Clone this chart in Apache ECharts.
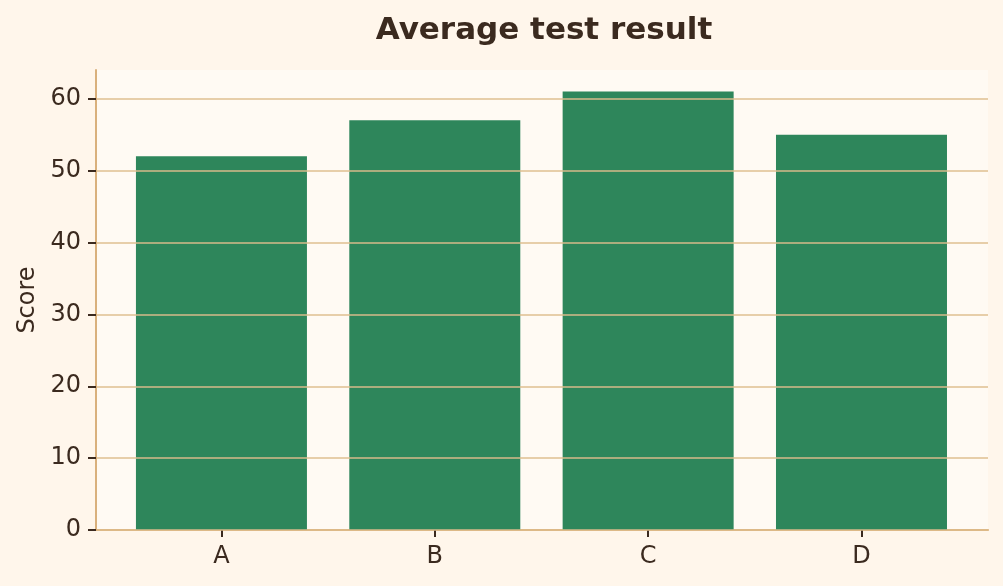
<!DOCTYPE html>
<html><head><meta charset="utf-8">
<script src="https://cdn.jsdelivr.net/npm/echarts@6/dist/echarts.min.js"></script>
<style>html,body{margin:0;padding:0;background:#fff6eb;}#c{width:1003px;height:586px;}</style>
</head><body><div id="c"></div>
<script>
const categories = ['A', 'B', 'C', 'D'];
const scores = [52, 57, 61, 55];
const yTicks = [0, 10, 20, 30, 40, 50, 60];
const title = 'Average test result';
const yName = 'Score';

const ink = '#3b2a1f';
const chart = echarts.init(document.getElementById('c'));
chart.setOption({
  backgroundColor: '#fff6eb',
  animation: false,
  title: {
    text: title, left: 539, top: 10, textAlign: 'center',
    textStyle: { fontFamily: 'DejaVu Sans', fontWeight: 'bold', fontSize: 31, color: ink }
  },
  grid: {
    left: 96, right: 15, top: 70, bottom: 56, show: true,
    backgroundColor: '#fffaf3', borderWidth: 0
  },
  xAxis: {
    type: 'value', min: -0.588, max: 3.593,
    axisLine: { show: true, onZero: false, lineStyle: { color: '#d9b07c', width: 2 } },
    axisTick: { show: true, customValues: [0, 1, 2, 3], length: 7, lineStyle: { color: ink, width: 2 } },
    axisLabel: {
      customValues: [0, 1, 2, 3], formatter: v => categories[Math.round(v)],
      fontFamily: 'DejaVu Sans', fontSize: 24, color: ink, margin: 15
    },
    splitLine: { show: false }
  },
  yAxis: {
    type: 'value', min: 0, max: 64, z: 5,
    name: yName, nameLocation: 'middle', nameGap: 51, nameRotate: 90,
    nameTextStyle: { fontFamily: 'DejaVu Sans', fontSize: 24, color: ink },
    axisLine: { show: true, onZero: false, lineStyle: { color: '#d9b07c', width: 2 } },
    axisTick: { show: true, customValues: yTicks, length: 8, lineStyle: { color: ink, width: 2 } },
    axisLabel: { customValues: yTicks, fontFamily: 'DejaVu Sans', fontSize: 24, color: ink, margin: 15 },
    splitLine: { show: true, customValues: yTicks, lineStyle: { color: 'rgba(222,188,140,0.72)', width: 2 } }
  },
  series: [{
    type: 'bar', z: 2,
    data: scores.map((s, i) => [i, s]),
    barWidth: 171,
    itemStyle: { color: '#2e865b' }
  }]
});
</script></body></html>
